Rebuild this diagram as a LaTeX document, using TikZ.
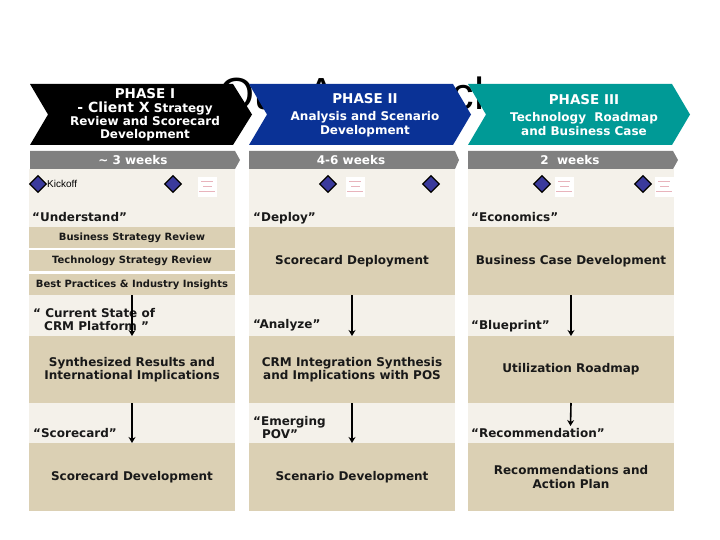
\documentclass[tikz,border=0pt]{standalone}
\usepackage{fontspec}
\usepackage{xcolor}
\setmainfont{DejaVu Sans}
\newfontfamily\arialfont{Liberation Sans}
\usetikzlibrary{arrows.meta, positioning, shapes.geometric}
\definecolor{sable}{HTML}{DBD0B4}
\definecolor{fondclair}{HTML}{F4F1EA}
\definecolor{gris}{HTML}{808080}
\definecolor{bleu}{HTML}{0A3296}
\definecolor{sarcelle}{HTML}{009A96}
\definecolor{losange}{HTML}{3A3A9C}
\definecolor{rose}{HTML}{E8B4BC}
\tikzset{
  panneau/.style={rectangle, inner sep=0pt, outer sep=0pt, anchor=north west,
    minimum width=206pt, align=center, text=black!90,
    font=\fontsize{12}{13.3}\selectfont\bfseries},
  clair/.style={panneau, fill=fondclair},
  sombre/.style={panneau, fill=sable},
  bandeau/.style={panneau, fill=sable, font=\fontsize{10}{11}\selectfont\bfseries},
  titrephase/.style={inner sep=0pt, align=center, text=white,
    font=\fontsize{12}{13.3}\selectfont\bfseries},
  duree/.style={titrephase, font=\fontsize{12}{13}\selectfont\bfseries},
  citation/.style={inner sep=0pt, anchor=west, align=left, text=black!90,
    font=\fontsize{12}{13}\selectfont\bfseries},
  jalon/.style={diamond, draw=black, line width=1.3pt, fill=losange,
    minimum size=17pt, inner sep=0pt},
  memo/.style={rectangle, fill=white, minimum width=19pt, minimum height=20pt, inner sep=0pt},
  fleche/.style={-{Stealth[length=6pt, width=7pt]}, line width=1.6pt, color=black},
}
\begin{document}
\begin{tikzpicture}[x=1pt, y=-1pt]
  \useasboundingbox (0,0) rectangle (720,540);

  % title sits behind the phase banners
  \node[inner sep=0pt, anchor=base west, font=\fontsize{45}{45}\selectfont\arialfont] (titre) at (219,110) {Our Approach};

  % phase banners
  \fill[black] (30,84) -- (233,84) -- (252,114.5) -- (233,145) -- (30,145) -- (48,114.5) -- cycle;
  \fill[bleu] (249,84) -- (453,84) -- (471,114.5) -- (453,145) -- (249,145) -- (267,114.5) -- cycle;
  \fill[sarcelle] (468,84) -- (672,84) -- (690,114.5) -- (672,145) -- (468,145) -- (486,114.5) -- cycle;
  \node[titrephase] (phaseun) at (145,115) {{\fontsize{13.5}{13.3}\selectfont PHASE I}\\ {\fontsize{14}{15}\selectfont - Client X} Strategy\\ Review and Scorecard\\ Development};
  \node[titrephase] (phasedeux) at (365,115) {{\fontsize{13.5}{15}\selectfont PHASE II}\\[4pt] Analysis and Scenario\\ Development};
  \node[titrephase] (phasetrois) at (584,115) {{\fontsize{13.5}{15}\selectfont PHASE III}\\[4pt] Technology\ \ Roadmap\\ and Business Case};

  % durations
  \fill[gris] (30,151) -- (235,151) -- (240,160) -- (235,169) -- (30,169) -- cycle;
  \fill[gris] (249,151) -- (455,151) -- (459,160) -- (455,169) -- (249,169) -- cycle;
  \fill[gris] (468,151) -- (673,151) -- (678,160) -- (673,169) -- (468,169) -- cycle;
  \node[duree] (dureeun) at (133,160.5) {\char`\~\ 3 weeks};
  \node[duree] (dureedeux) at (351,160.5) {4-6 weeks};
  \node[duree] (dureetrois) at (570,160.5) {2\ \ weeks};

  % first column
  \node[clair, minimum height=58pt] (fondun) at (29,169) {};
  \node[bandeau, minimum height=21pt] (revuestrat) at (29,227) {Business Strategy Review};
  \node[bandeau, minimum height=21pt] (revuetech) at (29,250) {Technology Strategy Review};
  \node[bandeau, minimum height=21pt] (pratiques) at (29,274) {Best Practices \& Industry Insights};
  \node[clair, minimum height=41pt] (etatun) at (29,295) {};
  \node[sombre, minimum height=67pt] (synthese) at (29,336) {Synthesized Results and\\ International Implications};
  \node[clair, minimum height=40pt] (tableau) at (29,403) {};
  \node[sombre, minimum height=68pt] (devtableau) at (29,443) {Scorecard Development};

  % second column
  \node[clair, minimum height=58pt] (fonddeux) at (249,169) {};
  \node[sombre, minimum height=68pt] (deploiement) at (249,227) {Scorecard Deployment};
  \node[clair, minimum height=41pt] (analyse) at (249,295) {};
  \node[sombre, minimum height=67pt] (integration) at (249,336) {CRM Integration Synthesis\\ and Implications with POS};
  \node[clair, minimum height=40pt] (vision) at (249,403) {};
  \node[sombre, minimum height=68pt] (scenario) at (249,443) {Scenario Development};

  % third column
  \node[clair, minimum height=58pt] (fondtrois) at (468,169) {};
  \node[sombre, minimum height=68pt] (dossier) at (468,227) {Business Case Development};
  \node[clair, minimum height=41pt] (plan) at (468,295) {};
  \node[sombre, minimum height=67pt] (feuille) at (468,336) {Utilization Roadmap};
  \node[clair, minimum height=40pt] (reco) at (468,403) {};
  \node[sombre, minimum height=68pt] (action) at (468,443) {Recommendations and\\ Action Plan};

  % milestones
  \foreach \x in {38,173,328,431,542,643} {
    \node[jalon] (jalon\x) at (\x,184) {};
  }
  \foreach \x in {207,355,564,664} {
    \node[memo] (memo\x) at (\x,187) {};
    \draw[rose, line width=1pt] (\x-6,182) -- (\x+6,182) (\x-4,187) -- (\x+5,187) (\x-8,192) -- (\x+8,192);
  }
  \node[inner sep=0pt, anchor=west, font=\fontsize{10}{12}\selectfont\arialfont] (depart) at (47,183.5) {Kickoff};

  % quoted labels
  \node[citation] (comprendre) at (32,217) {“Understand”};
  \node[citation] (deployer) at (253,218) {“Deploy”};
  \node[citation] (economie) at (471,217) {“Economics”};
  \node[citation] (etat) at (33,319.5) {“ Current State of\\ \hspace*{11pt}CRM Platform ”};
  \node[citation] (analyser) at (253,325.5) {“Analyze”};
  \node[citation] (schema) at (471,326) {“Blueprint”};
  \node[citation] (carte) at (33,433) {“Scorecard”};
  \node[citation] (emergent) at (253,427.5) {“Emerging\\ \hspace*{9pt}POV”};
  \node[citation] (conseil) at (471,433) {“Recommendation”};

  % arrows
  \coordinate (finreco) at (570.5,426);
  \draw[fleche] (pratiques.south) -- (synthese.north);
  \draw[fleche] (tableau.north) -- (devtableau.north);
  \draw[fleche] (analyse.north) -- (integration.north);
  \draw[fleche] (vision.north) -- (scenario.north);
  \draw[fleche] (plan.north) -- (feuille.north);
  \draw[fleche] (reco.north) -- (finreco);
\end{tikzpicture}
\end{document}
